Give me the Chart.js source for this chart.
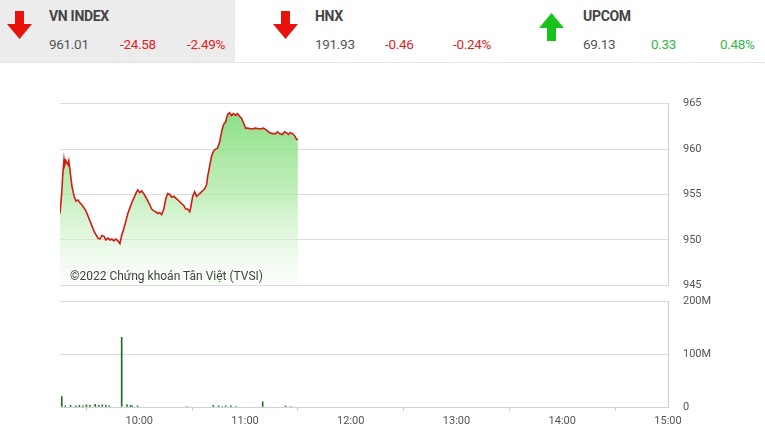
<!DOCTYPE html>
<html lang="vi">
<head>
<meta charset="UTF-8" />
<title>VN INDEX</title>
<script src="https://cdn.jsdelivr.net/npm/chart.js"></script>
<style>
  body { margin: 0; background: #fff; font-family: Roboto, "Noto Sans", sans-serif; }
  #wrap { position: relative; width: 765px; height: 441px; overflow: hidden; }
  .bar { position: absolute; left: 0; top: 0; width: 765px; height: 62px; border-bottom: 1px solid #e4e4e4; }
  .panel { position: absolute; top: 0; height: 62px; }
  .panel.active { background: #ececec; }
  .name { position: absolute; top: 8px; font-size: 14px; font-weight: 700; color: #444; letter-spacing: -0.3px; }
  .val { position: absolute; top: 36px; font-size: 13.5px; color: #555; letter-spacing: -0.3px; }
  .red { color: #e0221f; }
  .green { color: #39b54a; }
  .arrow { position: absolute; }
  canvas { position: absolute; }
  #wm { position: absolute; left: 70px; top: 269px; font-size: 12px; color: #444; }
</style>
</head>
<body>
<div id="wrap">
  <div class="bar">
    <div class="panel active" style="left:0;width:235px"></div>
    <svg class="arrow" style="left:6px;top:11px" width="27" height="29" viewBox="0 0 27 29"><path d="M9 0h9v13h8L13.5 28 1 13h8z" fill="#e8120c"/></svg>
    <div class="name" style="left:49px">VN INDEX</div>
    <div class="val" style="left:49px">961.01</div>
    <div class="val red" style="left:120px">-24.58</div>
    <div class="val red" style="left:187px">-2.49%</div>

    <svg class="arrow" style="left:272px;top:11px" width="27" height="29" viewBox="0 0 27 29"><path d="M9 0h9v13h8L13.5 28 1 13h8z" fill="#e8120c"/></svg>
    <div class="name" style="left:315px">HNX</div>
    <div class="val" style="left:315px">191.93</div>
    <div class="val red" style="left:385px">-0.46</div>
    <div class="val red" style="left:453px">-0.24%</div>

    <svg class="arrow" style="left:538px;top:12px" width="27" height="29" viewBox="0 0 27 29"><path d="M9 29h9V16h8L13.5 1 1 16h8z" fill="#18c41c"/></svg>
    <div class="name" style="left:583px">UPCOM</div>
    <div class="val" style="left:583px">69.13</div>
    <div class="val green" style="left:651px">0.33</div>
    <div class="val green" style="left:720px">0.48%</div>
  </div>

  <canvas id="priceChart" style="left:0;top:82px" width="765" height="225"></canvas>
  <div id="wm">©2022 Chứng khoán Tân Việt (TVSI)</div>
  <canvas id="volChart" style="left:0;top:280px" width="765" height="161"></canvas>
</div>

<script>
// minutes from midnight (9:15 = 555, 15:00 = 900)
const priceTimes = [555, 556, 556.5, 557.3, 557.8, 558.4, 559.5, 560, 560.7, 561.8, 563, 564, 565.2, 566.3, 568, 569.7,
  572, 574.2, 576.5, 577.6, 578.8, 580, 581, 582.2, 583.3, 584.4, 585.6, 586.7, 587.8, 589, 590, 591.2, 592.4, 593.5,
  594.6, 595.7, 596.9, 598, 599.1, 600.3, 601.4, 602.5, 603.7, 604.8, 605.9, 607, 608.2, 609.3, 610.5, 611.6, 612.7,
  613.9, 615, 616.1, 617.3, 618.4, 619.5, 620.7, 621.8, 622.9, 624, 625.2, 626.3, 627.4, 628.6, 629.2, 630.3, 631.4,
  632.5, 633.7, 634.8, 635.9, 637, 638.2, 638.8, 639.9, 641, 642.2, 643.3, 644.4, 645.6, 646.7, 647.8, 649, 650.1,
  651.2, 652.3, 653.4, 654.6, 655.7, 656.9, 658, 659.1, 660.3, 661.4, 663.7, 665.9, 668.2, 670.5, 672.7, 673.9,
  675.6, 677.3, 678.4, 679.5, 681.2, 682.4, 683.5, 684.6, 685.7, 686.9, 688, 689.2, 690];
const priceValues = [952.9, 955.2, 957.0, 958.9, 958.3, 958.7, 958.3, 958.7, 957.6, 955.9, 954.8, 954.3, 954.4, 954.1, 953.7, 953.2,
  952.1, 951.0, 950.2, 950.1, 950.5, 950.4, 950.0, 950.2, 950.0, 950.1, 949.9, 950.1, 949.9, 949.6, 950.5, 951.2, 952.1, 952.9,
  953.5, 954.1, 954.6, 955.1, 955.5, 955.2, 955.4, 955.1, 954.7, 954.3, 953.9, 953.4, 953.2, 953.1, 952.9, 953.0, 952.8,
  953.4, 954.5, 955.1, 955.0, 954.7, 954.8, 954.6, 954.4, 954.2, 954.0, 953.8, 953.4, 953.4, 953.1, 953.6, 954.8, 955.3,
  954.8, 955.0, 955.2, 955.4, 955.6, 956.1, 957.0, 958.1, 959.2, 959.8, 960.0, 960.1, 960.8, 961.9, 962.7, 963.0, 963.8,
  964.0, 963.7, 963.9, 963.7, 963.9, 963.6, 963.4, 962.9, 962.3, 962.3, 962.2, 962.3, 962.2, 962.3, 962.0, 961.8,
  961.7, 961.7, 961.9, 961.7, 961.6, 961.9, 961.8, 961.6, 961.8, 961.7, 961.5, 961.1, 961.01];

const volTimes = [556, 558, 561, 564, 566, 568, 570, 572, 575, 577, 579, 581, 583, 590, 593, 595, 596, 599,
  627, 642, 645, 647, 649, 652, 655, 670, 683, 686];
const volValues = [20e6, 2e6, 3e6, 2e6, 3e6, 2e6, 4e6, 3e6, 5e6, 3e6, 4e6, 3e6, 2e6, 132e6, 4e6, 3e6, 2e6, 2e6,
  1e6, 3e6, 2e6, 1e6, 2e6, 2e6, 1e6, 10e6, 2e6, 1e6];

const hourTicks = [600, 660, 720, 780, 840, 900];
const priceTicks = [945, 950, 955, 960, 965];
const volTicks = [0, 100e6, 200e6];

const gridColor = '#dcdcdc';
const borderColor = '#c9d2da';
const labelColor = '#555';

function fmtTime(v) {
  const h = Math.floor(v / 60), m = v % 60;
  return h + ':' + String(m).padStart(2, '0');
}

new Chart(document.getElementById('priceChart'), {
  type: 'line',
  data: {
    datasets: [{
      data: priceTimes.map((t, i) => ({ x: t, y: priceValues[i] })),
      borderColor: '#d51a16',
      borderWidth: 1.6,
      pointRadius: 0,
      tension: 0,
      fill: 'start',
      backgroundColor: ctx => {
        const area = ctx.chart.chartArea;
        if (!area) return 'rgba(140,225,135,0.6)';
        const g = ctx.chart.ctx.createLinearGradient(0, area.top, 0, area.bottom);
        g.addColorStop(0, 'rgba(125,220,120,0.95)');
        g.addColorStop(0.5, 'rgba(170,232,160,0.7)');
        g.addColorStop(1, 'rgba(235,250,232,0.25)');
        return g;
      }
    }]
  },
  options: {
    responsive: false,
    animation: false,
    layout: { padding: { left: 60, top: 7, bottom: 10, right: 0 } },
    plugins: { legend: { display: false }, tooltip: { enabled: false } },
    scales: {
      x: { type: 'linear', min: 555, max: 900, display: false },
      y: {
        position: 'right',
        min: 945, max: 965,
        afterBuildTicks: s => { s.ticks = priceTicks.map(v => ({ value: v })); },
        afterFit: s => { s.width = 97; },
        grid: { color: gridColor, drawTicks: false },
        border: { display: true, color: borderColor },
        ticks: { padding: 15, color: labelColor, font: { family: 'Roboto', size: 11 } }
      }
    }
  }
});

new Chart(document.getElementById('volChart'), {
  type: 'bar',
  data: {
    datasets: [{
      data: volTimes.map((t, i) => ({ x: t, y: volValues[i] })),
      backgroundColor: '#1f6e1f',
      barThickness: 1,
      grouped: false
    }]
  },
  options: {
    responsive: false,
    animation: false,
    layout: { padding: { left: 60, top: 7, bottom: 0, right: 0 } },
    plugins: { legend: { display: false }, tooltip: { enabled: false } },
    scales: {
      x: {
        type: 'linear', min: 555, max: 900, offset: false,
        afterBuildTicks: s => { s.ticks = hourTicks.map(v => ({ value: v })); },
        afterFit: s => { s.height = 34; },
        grid: { drawOnChartArea: false, drawTicks: true, tickLength: 4, color: borderColor },
        border: { display: true, color: borderColor },
        ticks: { padding: 4, color: labelColor, maxRotation: 0, font: { family: 'Roboto', size: 11 }, callback: v => fmtTime(v) }
      },
      y: {
        position: 'right',
        min: 0, max: 200e6,
        afterBuildTicks: s => { s.ticks = volTicks.map(v => ({ value: v })); },
        afterFit: s => { s.width = 97; },
        grid: { color: gridColor, drawTicks: false },
        border: { display: true, color: borderColor },
        ticks: { padding: 15, color: labelColor, font: { family: 'Roboto', size: 11 }, callback: v => v === 0 ? '0' : (v / 1e6) + 'M' }
      }
    }
  }
});
</script>
</body>
</html>
